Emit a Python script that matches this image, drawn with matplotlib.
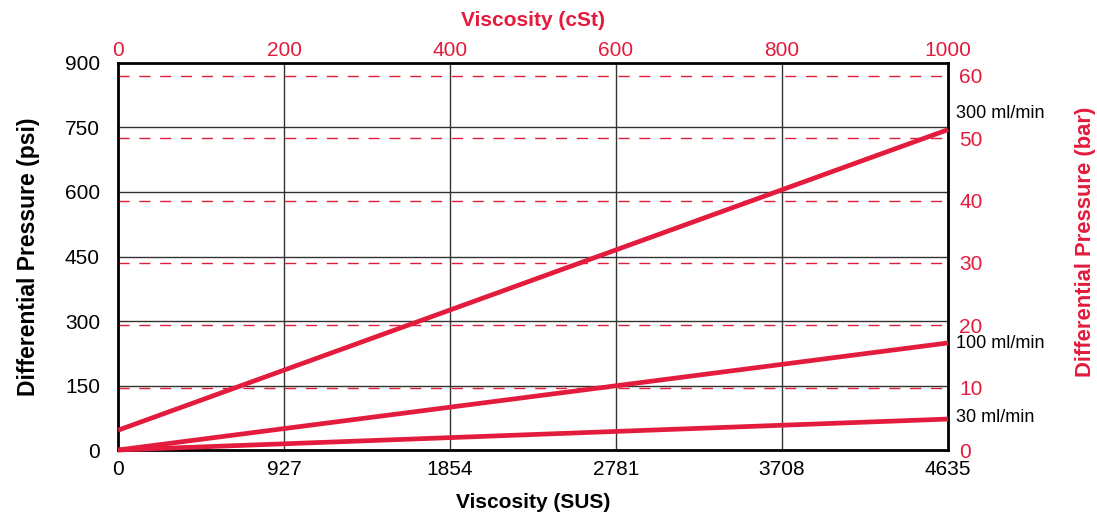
import numpy as np
import matplotlib
matplotlib.use("Agg")
import matplotlib.pyplot as plt

plt.rcParams['font.family'] = ['Liberation Sans', 'DejaVu Sans']

RED = '#e31b3c'

# data
sus_ticks = [0, 927, 1854, 2781, 3708, 4635]
cst_ticks = [0, 200, 400, 600, 800, 1000]
psi_ticks = [0, 150, 300, 450, 600, 750, 900]
bar_ticks = [0, 10, 20, 30, 40, 50, 60]

flow_labels = ['300 ml/min', '100 ml/min', '30 ml/min']
cst_pts = [0, 1000]
psi_300 = [46, 745]
psi_100 = [0, 249]
psi_30 = [0, 72]

PSI_PER_BAR = 14.5038

fig = plt.figure(figsize=(10.97, 5.13), dpi=100)
ax = fig.add_axes([0.1076, 0.1228, 0.7566, 0.7544])

ax.set_xlim(0, 1000)
ax.set_ylim(0, 900)

# black grid (psi / SUS)
for p in psi_ticks[1:-1]:
    ax.axhline(p, color='#333333', lw=1.0, zorder=1)
sus_to_cst = 1000 / 4635
for s in sus_ticks[1:-1]:
    ax.axvline(s * sus_to_cst, color='#333333', lw=1.0, zorder=1)

# red dashed grid (bar)
for b in bar_ticks[1:]:
    ax.axhline(b * PSI_PER_BAR, color=RED, lw=1.0, ls=(0, (8, 7)), zorder=1)

for ys in [psi_300, psi_100, psi_30]:
    ax.plot(cst_pts, ys, color=RED, lw=3.4, solid_capstyle='butt', zorder=3, clip_on=False)

# flow labels
ax.text(1010, 783, flow_labels[0], fontsize=13, va='center', ha='left')
ax.text(1010, 247, flow_labels[1], fontsize=13, va='center', ha='left')
ax.text(1010, 75, flow_labels[2], fontsize=13, va='center', ha='left')

for sp in ax.spines.values():
    sp.set_linewidth(2)
    sp.set_color('black')

# top axis: cSt
ax.set_xticks(cst_ticks)
ax.set_xticklabels([str(c) for c in cst_ticks])
ax.xaxis.tick_top()
ax.tick_params(axis='x', colors=RED, labelsize=15, length=0, pad=2)
ax.xaxis.set_label_position('top')
ax.set_xlabel('Viscosity (cSt)', color=RED, fontsize=15, fontweight='bold', labelpad=11)

ax.set_yticks(psi_ticks)
ax.set_yticklabels([str(p) for p in psi_ticks])
ax.tick_params(axis='y', labelsize=15, length=0, pad=13)
ax.set_ylabel('Differential Pressure (psi)', fontsize=16.5, fontweight='bold', labelpad=18)

# bottom axis: SUS
axb = ax.secondary_xaxis('bottom', functions=(lambda c: c / sus_to_cst, lambda s: s * sus_to_cst))
axb.set_xticks(sus_ticks)
axb.set_xticklabels([str(s) for s in sus_ticks])
axb.tick_params(labelsize=15, length=0, pad=7)
axb.set_xlabel('Viscosity (SUS)', fontsize=15, fontweight='bold', labelpad=10)

# right axis: bar
axr = ax.secondary_yaxis('right', functions=(lambda p: p / PSI_PER_BAR, lambda b: b * PSI_PER_BAR))
axr.set_yticks(bar_ticks)
axr.set_yticklabels([str(b) for b in bar_ticks])
axr.tick_params(colors=RED, labelsize=15, length=0, pad=8)
fig.text(1085 / 1097, 1 - 242 / 513, 'Differential Pressure (bar)', color=RED, fontsize=15.8,
         fontweight='bold', rotation=90, ha='center', va='center')

fig.savefig('out.png', dpi=100)
